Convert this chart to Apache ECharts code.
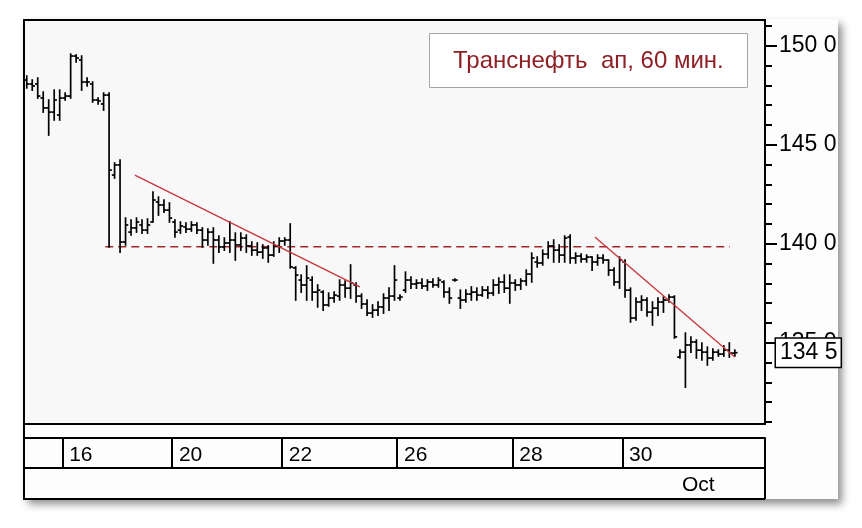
<!DOCTYPE html>
<html><head><meta charset="utf-8">
<script src="https://cdn.jsdelivr.net/npm/echarts@6/dist/echarts.min.js"></script>
<style>
html,body{margin:0;padding:0;background:#ffffff;}
#wrap{position:relative;width:862px;height:528px;overflow:hidden;}
#panel{position:absolute;left:24px;top:19px;width:814px;height:480px;background:#fdfdfd;box-shadow:4px 5px 8px rgba(0,0,0,0.45);}
#c{position:absolute;left:0;top:0;width:862px;height:528px;}
</style>
</head><body><div id="wrap"><div id="panel"></div><div id="c"></div></div>
<script>
// ---- data ----
const dayLabels  = ['15','16','17','20','21','22','23','26','27','28','29','30','1'];
const dayMonths  = ['Sep','Sep','Sep','Sep','Sep','Sep','Sep','Sep','Sep','Sep','Sep','Sep','Oct'];
const barsPerDay = [7,10,10,10,10,11,10,11,10,10,10,10,11];
const shownDays  = ['16','20','22','26','28','30'];
const padBars    = 5;

const opens = [
148.27,148.07,148.07,147.36,146.86,146.65,146.50,
147.36,147.46,149.48,149.28,148.17,148.07,147.26,147.06,147.51,143.47,
143.98,140.09,140.59,140.80,140.95,140.69,141.10,142.11,141.96,141.70,
141.10,140.69,140.85,140.74,140.95,140.69,140.19,140.59,140.19,139.84,
140.04,140.19,139.94,140.29,139.89,139.68,139.58,139.79,139.43,139.89,
140.14,140.19,138.78,138.17,137.92,138.17,137.56,137.56,136.91,137.26,137.36,
137.92,137.76,137.92,137.36,136.96,136.50,136.65,136.81,137.26,137.36,
137.26,137.66,138.17,137.97,138.02,137.87,138.07,137.92,138.07,137.56,138.17,
137.26,137.16,137.46,137.56,137.41,137.66,137.51,137.92,138.07,137.76,
138.02,137.92,138.12,138.47,139.08,139.03,139.48,139.89,139.68,139.43,
140.34,139.28,139.38,139.23,139.33,139.08,139.28,139.18,138.67,138.07,
139.08,137.66,136.25,137.06,137.16,136.55,136.75,137.06,137.16,137.31,
134.28,134.53,134.89,135.04,134.63,134.53,134.23,134.53,134.43,134.63,134.48
];
const highs = [
148.47,148.27,148.37,147.66,147.26,147.76,147.76,
147.61,149.58,149.53,149.48,148.37,148.17,147.36,147.61,147.61,144.08,
144.23,141.30,141.20,141.30,141.20,141.25,142.61,142.36,142.21,142.06,
141.20,141.10,141.05,141.10,141.05,140.80,140.74,140.80,140.39,140.29,
141.10,140.54,140.54,140.44,140.09,140.04,139.94,139.89,140.09,140.29,
140.29,141.00,138.83,138.42,138.88,138.32,137.92,137.61,137.51,137.56,138.17,
138.12,138.93,138.02,137.46,137.16,136.91,137.06,137.46,137.76,138.88,
137.41,138.57,138.32,138.17,138.22,138.17,138.22,138.27,138.12,137.76,138.22,
137.66,137.66,137.82,137.76,137.82,137.82,138.17,138.27,138.42,138.42,
138.17,138.22,138.67,139.53,139.33,139.68,140.09,140.19,139.94,140.39,
140.44,139.53,139.48,139.43,139.33,139.43,139.43,139.18,138.78,139.33,
139.18,137.76,137.26,137.36,137.26,137.06,137.26,137.31,137.41,137.36,
134.63,135.49,135.29,135.14,134.99,134.78,134.68,134.63,134.84,134.99,134.63
];
const lows = [
147.87,147.76,147.36,146.65,145.49,146.25,146.25,
147.26,147.36,149.18,147.76,147.97,147.16,147.06,146.75,139.84,143.32,
139.58,139.94,140.44,140.59,140.54,140.54,141.10,141.45,141.60,141.10,
140.34,140.54,140.59,140.64,140.54,139.84,139.94,139.03,139.58,139.68,
139.58,139.18,139.68,139.58,139.43,139.43,139.28,139.08,139.38,139.58,
139.94,138.78,137.16,137.56,137.16,137.16,136.81,136.65,136.86,137.06,137.16,
137.31,137.26,137.06,136.75,136.40,136.30,136.40,136.50,136.65,137.16,
137.16,137.56,137.76,137.76,137.76,137.66,137.82,137.82,137.31,137.01,138.12,
136.75,137.06,137.16,137.16,137.36,137.26,137.41,137.51,137.56,137.01,
137.66,137.71,137.92,138.07,138.83,138.93,139.28,139.08,139.08,139.08,
139.03,139.03,139.08,139.08,138.67,138.93,139.03,138.42,137.92,137.76,
137.31,136.05,136.15,136.65,136.35,135.90,136.40,136.55,137.06,135.24,
134.23,132.76,134.53,134.23,134.13,133.88,134.13,134.33,134.33,134.28,134.33
];
const closes = [
148.07,147.97,147.46,146.86,146.65,147.26,147.36,
147.46,149.48,149.38,148.17,148.17,147.26,147.21,147.51,143.72,143.98,
140.09,140.95,140.80,141.10,140.69,140.95,142.21,141.96,141.70,141.30,
140.59,140.90,140.74,140.95,140.69,140.19,140.59,140.19,139.84,140.04,
140.19,139.94,140.29,139.89,139.68,139.58,139.79,139.43,139.89,140.14,
140.19,138.83,138.42,137.92,138.27,137.56,137.66,136.91,137.26,137.41,137.92,
137.76,138.02,137.36,136.96,136.50,136.65,136.81,137.26,137.36,138.17,
137.31,138.17,137.97,138.02,137.87,138.07,137.92,138.17,137.56,137.26,138.17,
137.16,137.46,137.56,137.41,137.66,137.51,137.92,138.07,137.76,138.02,
137.92,138.12,138.47,139.28,139.03,139.48,139.89,139.68,139.43,140.29,
139.28,139.38,139.23,139.33,139.08,139.28,139.18,138.67,138.07,139.18,
137.66,136.25,137.06,137.16,136.55,136.75,137.06,137.16,137.31,135.30,
134.53,134.89,135.04,134.63,134.53,134.23,134.53,134.43,134.63,134.48,134.50
];

// trend lines: [bar position, price]
const trendLine1  = [[19.7, 143.47], [60.7, 137.82]];
const trendLine2  = [[103.5, 140.34], [129.0, 134.28]];
const supportLine = [[14.3, 139.85], [128.1, 139.85]];

const yMinorTicks = [131,132,133,134,135,136,137,138,139,140,141,142,143,144,145,146,147,148,149,150,151];
const yLabelTicks = [135,140,145,150];
const yMin = 130.9, yMax = 151.3;
const titleText = 'Транснефть  ап, 60 мин.';

// ---- build categories ----
const categories = [], barDay = [], barMonth = [];
dayLabels.forEach((d, k) => {
  for (let h = 0; h < barsPerDay[k]; h++) {
    categories.push(dayMonths[k] + ' ' + d + ' ' + (10 + h) + ':00');
    barDay.push(d); barMonth.push(dayMonths[k]);
  }
});
for (let k = 0; k < padBars; k++) { categories.push('pad' + k); barDay.push(''); barMonth.push(''); }
const N = categories.length;

const ohlc = opens.map((o, i) => [i, o, highs[i], lows[i], closes[i]]);
const lastClose = closes[closes.length - 1];
const isDayTick = (i) => i > 0 && barDay[i] !== barDay[i - 1] && shownDays.indexOf(barDay[i]) >= 0;
const isMonthTick = (i) => i > 0 && barMonth[i] !== '' && barMonth[i] !== barMonth[i - 1];
const fmtPrice = (v) => Number(v).toFixed(1).replace('.', ' ');
const FONT = '"Liberation Sans", Arial, sans-serif';

const chart = echarts.init(document.getElementById('c'), null, {renderer: 'canvas'});
const option = {
  animation: false,
  backgroundColor: 'transparent',
  title: {
    text: titleText, left: 429, top: 33,
    padding: [16, 24, 15, 24],
    backgroundColor: '#ffffff', borderColor: '#a5a5a5', borderWidth: 1,
    textStyle: {color: '#8e1f24', fontSize: 24, fontWeight: 'normal', fontFamily: FONT}
  },
  graphic: [
    {type: 'line', z: 100, shape: {x1: 24, y1: 19, x2: 24, y2: 500}, style: {stroke: '#000', lineWidth: 2}},
    {type: 'line', z: 100, shape: {x1: 24, y1: 499, x2: 765, y2: 499}, style: {stroke: '#000', lineWidth: 2}}
  ],
  grid: {left: 24, right: 97, top: 20, bottom: 104, show: true, backgroundColor: '#f8f8f8', borderColor: '#000', borderWidth: 2},
  xAxis: [
    {
      type: 'category', data: categories, boundaryGap: true, position: 'bottom', offset: 14,
      axisLine: {onZero: false, lineStyle: {color: '#000', width: 2}},
      axisTick: {show: true, interval: isDayTick, length: 30, lineStyle: {color: '#000', width: 2}},
      axisLabel: {interval: isDayTick, formatter: (v, i) => barDay[i], align: 'left', padding: [0, 0, 0, 4],
                  margin: 7, color: '#000', fontSize: 21, fontFamily: FONT},
      splitLine: {show: false}
    },
    {
      type: 'category', data: categories, boundaryGap: true, position: 'bottom', offset: 44,
      axisLine: {onZero: false, lineStyle: {color: '#000', width: 2}},
      axisTick: {show: true, interval: isMonthTick, length: 31, lineStyle: {color: '#000', width: 2}},
      axisLabel: {interval: isMonthTick, formatter: (v, i) => barMonth[i], align: 'left', padding: [0, 0, 0, 2],
                  margin: 7, color: '#000', fontSize: 21, fontFamily: FONT},
      splitLine: {show: false}
    },
    {type: 'value', min: -0.5, max: N - 0.5, show: false, axisLine: {onZero: false}}
  ],
  yAxis: [
    {
      type: 'value', position: 'right', min: yMin, max: yMax, scale: true,
      axisLine: {show: true, onZero: false, lineStyle: {color: '#000', width: 2}},
      axisTick: {show: true, customValues: yMinorTicks, length: 7, lineStyle: {color: '#000', width: 2}},
      axisLabel: {show: false}, splitLine: {show: false}
    },
    {
      type: 'value', position: 'right', min: yMin, max: yMax, scale: true,
      axisLine: {show: false, onZero: false},
      axisTick: {show: true, customValues: yLabelTicks, length: 12, lineStyle: {color: '#000', width: 2}},
      axisLabel: {show: true, customValues: yLabelTicks, formatter: fmtPrice, margin: 14,
                  color: '#000', fontSize: 23, fontFamily: FONT},
      splitLine: {show: false}
    }
  ],
  series: [
    {
      type: 'custom', name: 'ohlc', xAxisIndex: 0, yAxisIndex: 0,
      data: ohlc, encode: {x: 0, y: [1, 2, 3, 4]},
      renderItem: (params, api) => {
        const x = api.value(0);
        const o = api.coord([x, api.value(1)]);
        const h = api.coord([x, api.value(2)]);
        const l = api.coord([x, api.value(3)]);
        const c = api.coord([x, api.value(4)]);
        const w = api.size([1, 0])[0] * 0.5;
        const st = {stroke: '#000', lineWidth: 1.7};
        return {type: 'group', children: [
          {type: 'line', shape: {x1: h[0], y1: h[1] - 0.8, x2: l[0], y2: l[1] + 0.8}, style: st},
          {type: 'line', shape: {x1: o[0] - w, y1: o[1], x2: o[0], y2: o[1]}, style: st},
          {type: 'line', shape: {x1: c[0], y1: c[1], x2: c[0] + w, y2: c[1]}, style: st}
        ]};
      },
      z: 3
    },
    {type: 'line', xAxisIndex: 2, yAxisIndex: 0, data: supportLine, symbol: 'none', silent: true,
     lineStyle: {color: '#a3262b', width: 1.6, type: [8, 5]}, z: 2},
    {type: 'line', xAxisIndex: 2, yAxisIndex: 0, data: trendLine1, symbol: 'none', silent: true,
     lineStyle: {color: '#c8383c', width: 1.4}, z: 4},
    {type: 'line', xAxisIndex: 2, yAxisIndex: 0, data: trendLine2, symbol: 'none', silent: true,
     lineStyle: {color: '#c8383c', width: 1.4}, z: 4,
     markLine: {
        silent: true, symbol: ['none', 'none'], animation: false,
        lineStyle: {color: 'rgba(0,0,0,0)', width: 1, type: 'solid'},
        data: [{yAxis: lastClose, name: 'last'}],
        label: {show: true, position: 'end', distance: 11, formatter: fmtPrice(lastClose),
                backgroundColor: '#ffffff', borderColor: '#000000', borderWidth: 1.5, padding: [3, 3, 2, 4],
                color: '#000000', fontSize: 23, fontFamily: FONT},
        z: 20
     }}
  ]
};
chart.setOption(option);
</script></body></html>
